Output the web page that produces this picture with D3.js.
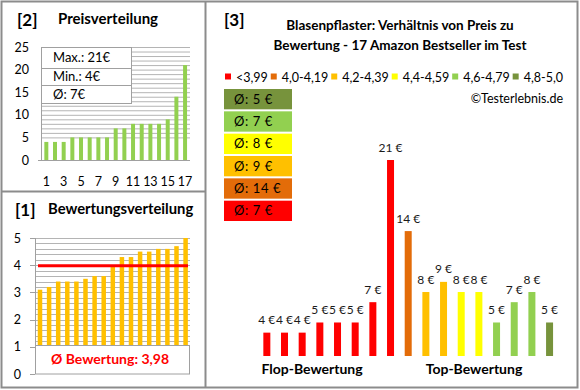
<!DOCTYPE html>
<html><head><meta charset="utf-8">
<script src="https://cdn.jsdelivr.net/npm/d3@7"></script>
<style>body{margin:0;background:#fff}svg{display:block;font-family:Lato,"Open Sans",sans-serif}</style>
</head><body><div id="c"></div>
<script>
// ---- data ----
const sortedPrices = [4,4,4,5,5,5,5,5,7,7,8,8,8,8,9,14,21];
const priceTicks = [0,5,10,15,20,25];
const priceXLabels = [1,3,5,7,9,11,13,15,17];
const priceStats = ["Max.: 21€","Min.: 4€","Ø: 7€"];
const sortedRatings = [3.1,3.2,3.4,3.4,3.4,3.5,3.6,3.6,4.0,4.3,4.3,4.5,4.5,4.6,4.6,4.7,5.0];
const ratingTicks = [0,1,2,3,4,5];
const avgRating = 3.98;
const avgRatingLabel = "Ø Bewertung: 3,98";
const productPrices  = [4,4,4,5,5,5,7,21,14,8,9,8,8,5,7,8,5];
const productRatings = [3.1,3.2,3.4,3.4,3.4,3.5,3.6,3.6,4.0,4.3,4.3,4.5,4.5,4.6,4.6,4.7,5.0];
const legendLabels = ["<3,99","4,0-4,19","4,2-4,39","4,4-4,59","4,6-4,79","4,8-5,0"];
const legendThresholds = [3.995,4.195,4.395,4.595,4.795];
const legendColors = ["#ff0000","#e36c09","#ffc000","#ffff00","#92d050","#77933c"];
const groupAvgPrices = [5,7,8,9,14,7]; // olive, light green, yellow, amber, orange, red
const groupAvgColors = ["#77933c","#92d050","#ffff00","#ffc000","#e36c09","#ff0000"];
const titleLines = ["Blasenpflaster: Verhältnis von Preis zu","Bewertung - 17 Amazon Bestseller im Test"];

const W=580,H=390;
const svg=d3.select("#c").append("svg").attr("width",W).attr("height",H);
svg.append("rect").attr("width",W).attr("height",H).attr("fill","#fff");
const grid="#b4b4b4", frame="#8c8c8c";

// ---- Panel [2] Preisverteilung ----
const g2=svg.append("g");
const x2=d3.scaleBand().domain(d3.range(1,18)).range([42,189.4]).paddingInner(0.54).paddingOuter(0.27);
const y2=d3.scaleLinear().domain([0,25]).range([160,47]);
g2.selectAll("line.grid").data(d3.range(5,26)).join("line")
  .attr("x1",41).attr("x2",190).attr("y1",d=>y2(d)+0.5).attr("y2",d=>y2(d)+0.5)
  .attr("stroke",grid).attr("stroke-width",1);
g2.selectAll("rect.bar").data(sortedPrices).join("rect")
  .attr("x",(d,i)=>x2(i+1)).attr("width",x2.bandwidth())
  .attr("y",d=>y2(d)).attr("height",d=>y2(0)-y2(d)).attr("fill","#92d050");
g2.append("line").attr("x1",41.5).attr("x2",41.5).attr("y1",47).attr("y2",160).attr("stroke","#a0a0a0");
g2.append("line").attr("x1",38).attr("x2",190).attr("y1",160.5).attr("y2",160.5).attr("stroke","#a0a0a0");
g2.selectAll("text.yt").data(priceTicks).join("text")
  .attr("x",29).attr("y",d=>y2(d)+4.5).attr("text-anchor","end").attr("font-size",12.5).attr("fill","#000").text(d=>d);
g2.selectAll("text.xt").data(priceXLabels).join("text")
  .attr("x",d=>x2(d)+x2.bandwidth()/2).attr("y",186).attr("text-anchor","middle").attr("font-size",12.5).attr("fill","#000").text(d=>d);
// stats box
g2.append("rect").attr("x",41.5).attr("y",47.5).attr("width",90).attr("height",56).attr("fill","#fff").attr("stroke","#a0a0a0");
[68.5,85.5].forEach(yy=>g2.append("line").attr("x1",41.5).attr("x2",131.5).attr("y1",yy).attr("y2",yy).attr("stroke","#a0a0a0"));
g2.selectAll("text.st").data(priceStats).join("text")
  .attr("x",53).attr("y",(d,i)=>62+i*18.5).attr("font-size",13).attr("fill","#000").text(d=>d);
g2.append("text").attr("x",17).attr("y",26).attr("font-size",17).attr("font-weight","bold").text("[2]");
g2.append("text").attr("x",58).attr("y",24).attr("font-size",15).attr("font-weight","bold").text("Preisverteilung");

// ---- Panel [1] Bewertungsverteilung ----
const g1=svg.append("g");
const x1=d3.scaleBand().domain(d3.range(17)).range([35.45,190.15]).paddingInner(0.505).paddingOuter(0.2525);
const y1=d3.scaleLinear().domain([0,5]).range([374,238]);
g1.selectAll("line.grid").data(d3.range(5,26).map(d=>d/5)).join("line")
  .attr("x1",35).attr("x2",190).attr("y1",d=>Math.round(y1(d))+0.5).attr("y2",d=>Math.round(y1(d))+0.5)
  .attr("stroke",grid);
g1.selectAll("rect.bar").data(sortedRatings).join("rect")
  .attr("x",(d,i)=>x1(i)).attr("width",x1.bandwidth())
  .attr("y",d=>y1(d)).attr("height",d=>y1(0)-y1(d)).attr("fill","#ffc000");
g1.append("line").attr("x1",35.5).attr("x2",35.5).attr("y1",238).attr("y2",374).attr("stroke","#a0a0a0");
g1.selectAll("line.tk").data(ratingTicks).join("line")
  .attr("x1",30).attr("x2",35).attr("y1",d=>Math.round(y1(d))+0.5).attr("y2",d=>Math.round(y1(d))+0.5).attr("stroke","#a0a0a0");
g1.append("line").attr("x1",38).attr("x2",188).attr("y1",y1(avgRating)).attr("y2",y1(avgRating)).attr("stroke","#ff0000").attr("stroke-width",3);
g1.append("rect").attr("x",35.5).attr("y",345.5).attr("width",154).attr("height",28.5).attr("fill","#fff").attr("stroke","#a0a0a0");
g1.append("text").attr("x",110).attr("y",364).attr("text-anchor","middle").attr("font-size",14).attr("font-weight","bold").attr("fill","#ff0000").text(avgRatingLabel);
g1.selectAll("text.yt").data(ratingTicks).join("text")
  .attr("x",21).attr("y",d=>y1(d)+4.5).attr("text-anchor","end").attr("font-size",12.5).attr("fill","#000").text(d=>d);
g1.append("text").attr("x",15).attr("y",216).attr("font-size",17).attr("font-weight","bold").text("[1]");
g1.append("text").attr("x",48).attr("y",214).attr("font-size",14.8).attr("font-weight","bold").text("Bewertungsverteilung");

// ---- Panel [3] ----
const g3=svg.append("g");
g3.append("text").attr("x",224).attr("y",26).attr("font-size",17).attr("font-weight","bold").text("[3]");
g3.selectAll("text.title").data(titleLines).join("text")
  .attr("x",400).attr("y",(d,i)=>30+i*20).attr("text-anchor","middle").attr("font-size",13.5).attr("font-weight","bold").text(d=>d);
// legend (flow layout)
const lg=g3.append("g");
const items=legendLabels.map((t,i)=>{
  const gi=lg.append("g");
  gi.append("rect").attr("width",6).attr("height",6).attr("y",73.5).attr("fill",legendColors[i]);
  const tx=gi.append("text").attr("x",11).attr("y",82).attr("font-size",12.5).attr("fill","#000").text(t);
  return {g:gi,w:11+tx.node().getComputedTextLength()};
});
const startX=225,endX=563;
const totalW=d3.sum(items,d=>d.w);
const gap=(endX-startX-totalW)/(items.length-1);
let cx=startX;
items.forEach(it=>{it.g.attr("transform",`translate(${cx},0)`);cx+=it.w+gap;});
g3.append("text").attr("x",563).attr("y",103).attr("text-anchor","end").attr("font-size",12.5).text("©Testerlebnis.de");
// group average boxes
const avgY=d3.scaleBand().domain(d3.range(groupAvgPrices.length)).range([89,221]).paddingInner(0.09);
g3.selectAll("rect.avg").data(groupAvgPrices).join("rect")
  .attr("x",224).attr("width",68).attr("y",(d,i)=>avgY(i)).attr("height",avgY.bandwidth())
  .attr("fill",(d,i)=>groupAvgColors[i]);
g3.selectAll("text.avg").data(groupAvgPrices).join("text")
  .attr("x",234).attr("y",(d,i)=>avgY(i)+avgY.bandwidth()/2+4.5).attr("font-size",13).attr("letter-spacing",0.6).attr("fill","#000")
  .text(d=>`Ø: ${d} €`);
// main bars
const color=d3.scaleThreshold().domain(legendThresholds).range(legendColors);
const x3=d3.scaleBand().domain(d3.range(17)).range([258,558.4]).paddingInner(0.604).paddingOuter(0.302);
const y3=d3.scaleLinear().domain([1.7,21]).range([356,160]);
g3.selectAll("rect.bar").data(productPrices).join("rect")
  .attr("x",(d,i)=>x3(i)).attr("width",x3.bandwidth())
  .attr("y",d=>y3(d)).attr("height",d=>y3(y3.domain()[0])-y3(d))
  .attr("fill",(d,i)=>color(productRatings[i]));
g3.selectAll("text.lbl").data(productPrices).join("text")
  .attr("x",(d,i)=>x3(i)+x3.bandwidth()/2).attr("y",d=>y3(d)-8.5).attr("text-anchor","middle")
  .attr("font-size",12).attr("fill","#1a1a1a").text(d=>`${d} €`);
g3.append("text").attr("x",312).attr("y",374).attr("text-anchor","middle").attr("font-size",14).attr("font-weight","bold").text("Flop-Bewertung");
g3.append("text").attr("x",474).attr("y",374).attr("text-anchor","middle").attr("font-size",14).attr("font-weight","bold").text("Top-Bewertung");

// ---- frames ----
svg.append("rect").attr("x",1.5).attr("y",1.5).attr("width",576).attr("height",386).attr("fill","none").attr("stroke",frame).attr("stroke-width",2);
svg.append("line").attr("x1",205.5).attr("x2",205.5).attr("y1",1).attr("y2",388).attr("stroke",frame).attr("stroke-width",2);
svg.append("line").attr("x1",1).attr("x2",205).attr("y1",191.5).attr("y2",191.5).attr("stroke",frame).attr("stroke-width",2);
</script></body></html>
